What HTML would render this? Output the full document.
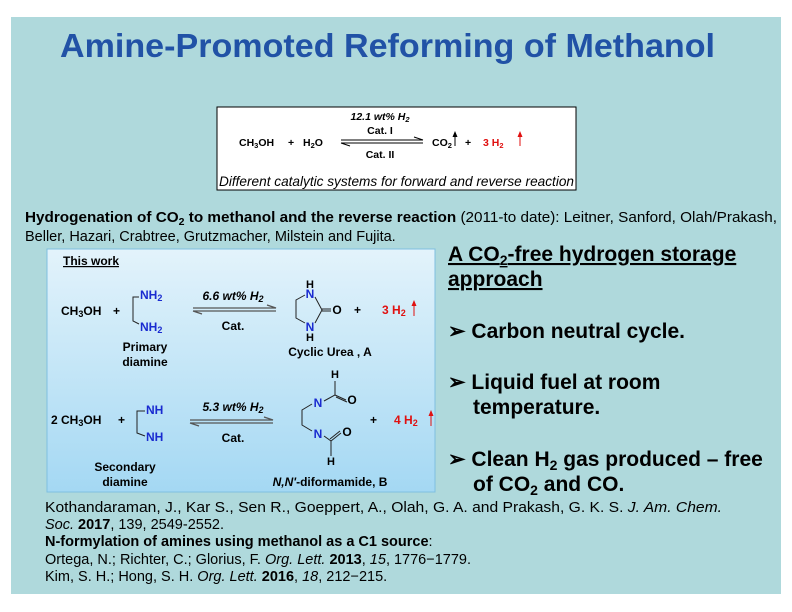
<!DOCTYPE html>
<html><head><meta charset="utf-8"><style>
html,body{margin:0;padding:0;background:#fff}
svg{display:block;font-family:"Liberation Sans",Arial,sans-serif}
</style></head><body>
<svg width="792" height="612" viewBox="0 0 792 612" xmlns="http://www.w3.org/2000/svg">
<defs>
<linearGradient id="bg" x1="0" y1="0" x2="0" y2="1">
<stop offset="0" stop-color="#e3f3fb"/><stop offset="1" stop-color="#a4d8f3"/>
</linearGradient>
</defs>
<rect x="11" y="17" width="770" height="577" fill="#afd9dc"/>
<text x="60" y="57" font-size="33" font-weight="bold" fill="#2152a6" textLength="655" lengthAdjust="spacingAndGlyphs">Amine-Promoted Reforming of Methanol</text>

<!-- top box -->
<rect x="217" y="107" width="359" height="83" fill="#fff" stroke="#000" stroke-width="1"/>
<g font-size="10.5" font-weight="bold">
<text x="380" y="120" text-anchor="middle" font-style="italic">12.1 wt% H<tspan font-size="7.5" dy="2">2</tspan></text>
<text x="380" y="134" text-anchor="middle">Cat. I</text>
<text x="380" y="158" text-anchor="middle">Cat. II</text>
<text x="239" y="146">CH<tspan font-size="7.5" dy="2">3</tspan><tspan dy="-2">OH</tspan></text>
<text x="288" y="146">+</text>
<text x="303" y="146">H<tspan font-size="7.5" dy="2">2</tspan><tspan dy="-2">O</tspan></text>
<text x="432" y="146">CO<tspan font-size="7.5" dy="2">2</tspan></text>
<text x="465" y="146">+</text>
<text x="483" y="146" fill="#e01010">3 H<tspan font-size="7.5" dy="2">2</tspan></text>
</g>
<path d="M341 140 H423 M423 140 l-9 -3 M341 143 H423 M341 143 l9 3" stroke="#000" stroke-width="1" fill="none"/>
<path d="M455 146 V136" stroke="#000" stroke-width="1"/><path d="M452.5 137 L455 131 L457.5 137Z" fill="#000"/>
<path d="M520 146 V136" stroke="#e01010" stroke-width="1"/><path d="M517.5 137 L520 131 L522.5 137Z" fill="#e01010"/>
<text x="219" y="186" font-size="14" font-style="italic" textLength="355" lengthAdjust="spacingAndGlyphs">Different catalytic systems for forward and reverse reaction</text>

<!-- hydrogenation paragraph -->
<text x="25" y="222" font-size="14.5" textLength="752" lengthAdjust="spacingAndGlyphs"><tspan font-weight="bold">Hydrogenation of CO<tspan font-size="10" dy="3">2</tspan><tspan dy="-3"> to methanol and the reverse reaction</tspan></tspan> (2011-to date): Leitner, Sanford, Olah/Prakash,</text>
<text x="25" y="241" font-size="14.5">Beller, Hazari, Crabtree, Grutzmacher, Milstein and Fujita.</text>

<!-- this work box -->
<rect x="47" y="249" width="388" height="243" fill="url(#bg)" stroke="#7fbfe0" stroke-width="1"/>
<text x="63" y="265" font-size="12" font-weight="bold" text-decoration="underline">This work</text>
<g font-size="12" font-weight="bold">
<text x="61" y="315">CH<tspan font-size="9" dy="2">3</tspan><tspan dy="-2">OH</tspan></text>
<text x="113" y="315">+</text>
<text x="140" y="299" fill="#1a2bd0">NH<tspan font-size="9" dy="2">2</tspan></text>
<text x="140" y="331" fill="#1a2bd0">NH<tspan font-size="9" dy="2">2</tspan></text>
<text x="145" y="351" text-anchor="middle">Primary</text>
<text x="145" y="366" text-anchor="middle">diamine</text>
<text x="233" y="300" text-anchor="middle" font-style="italic">6.6 wt% H<tspan font-size="9" dy="2">2</tspan></text>
<text x="233" y="330" text-anchor="middle">Cat.</text>
<text x="330" y="356" text-anchor="middle">Cyclic Urea , A</text>
<text x="354" y="314">+</text>
<text x="382" y="314" fill="#e01010">3 H<tspan font-size="9" dy="2">2</tspan></text>
<text x="51" y="424">2 CH<tspan font-size="9" dy="2">3</tspan><tspan dy="-2">OH</tspan></text>
<text x="118" y="424">+</text>
<text x="146" y="414" fill="#1a2bd0">NH</text>
<text x="146" y="441" fill="#1a2bd0">NH</text>
<text x="125" y="471" text-anchor="middle">Secondary</text>
<text x="125" y="486" text-anchor="middle">diamine</text>
<text x="233" y="411" text-anchor="middle" font-style="italic">5.3 wt% H<tspan font-size="9" dy="2">2</tspan></text>
<text x="233" y="442" text-anchor="middle">Cat.</text>
<text x="330" y="486" text-anchor="middle" font-style="italic">N,N'<tspan font-style="normal">-diformamide, B</tspan></text>
<text x="370" y="424">+</text>
<text x="394" y="424" fill="#e01010">4 H<tspan font-size="9" dy="2">2</tspan></text>
<!-- urea -->
<text x="310" y="288" text-anchor="middle" font-size="11">H</text>
<text x="310" y="298" text-anchor="middle" font-size="12" fill="#1a2bd0">N</text>
<text x="310" y="331" text-anchor="middle" font-size="12" fill="#1a2bd0">N</text>
<text x="310" y="341" text-anchor="middle" font-size="11">H</text>
<text x="337" y="314" text-anchor="middle">O</text>
<!-- diformamide -->
<text x="335" y="378" text-anchor="middle" font-size="11">H</text>
<text x="318" y="407" text-anchor="middle" fill="#1a2bd0">N</text>
<text x="352" y="404" text-anchor="middle">O</text>
<text x="318" y="438" text-anchor="middle" fill="#1a2bd0">N</text>
<text x="347" y="436" text-anchor="middle">O</text>
<text x="331" y="465" text-anchor="middle" font-size="11">H</text>
</g>
<g stroke="#222" stroke-width="1" fill="none">
<path d="M139 297 H133 V321 L139 324"/>
<path d="M145 411 H137 V433 L145 436"/>
<path d="M305 295 L296 300 V318 L305 323"/>
<path d="M315 297 L322 310 L315 323 M322 309 H331 M322 311 H331"/>
<path d="M312 404 L302 410 V425 L312 431"/>
<path d="M324 401 L335 395 V381 M335 395 L346 400 M336 397 L347 402"/>
<path d="M324 436 L331 441 V456 M331 441 L341 433 M330 439 L340 431"/>
</g>
<g stroke="#555" stroke-width="1.3" fill="none">
<path d="M193 308 H276 l-9 -3 M193 311 H276 M193 311 l9 3"/>
<path d="M190 420 H273 l-9 -3 M190 423 H273 M190 423 l9 3"/>
</g>
<path d="M414 316 V305" stroke="#e01010" stroke-width="1"/><path d="M411.5 306 L414 300 L416.5 306Z" fill="#e01010"/>
<path d="M431 426 V415" stroke="#e01010" stroke-width="1"/><path d="M428.5 416 L431 410 L433.5 416Z" fill="#e01010"/>

<!-- right column -->
<g font-size="21" font-weight="bold">
<text x="448" y="261" text-decoration="underline">A CO<tspan font-size="14" dy="4">2</tspan><tspan dy="-4">-free hydrogen storage</tspan></text>
<text x="448" y="286" text-decoration="underline">approach</text>
<text x="448" y="338">➢ Carbon neutral cycle.</text>
<text x="448" y="389">➢ Liquid fuel at room</text>
<text x="473" y="414">temperature.</text>
<text x="448" y="466">➢ Clean H<tspan font-size="14" dy="4">2</tspan><tspan dy="-4"> gas produced – free</tspan></text>
<text x="473" y="491">of CO<tspan font-size="14" dy="4">2</tspan><tspan dy="-4"> and CO.</tspan></text>
</g>

<!-- references -->
<g font-size="14.5">
<text x="45" y="512" textLength="677" lengthAdjust="spacingAndGlyphs">Kothandaraman, J., Kar S., Sen R., Goeppert, A., Olah, G. A. and Prakash, G. K. S. <tspan font-style="italic">J. Am. Chem.</tspan></text>
<text x="45" y="529"><tspan font-style="italic">Soc.</tspan> <tspan font-weight="bold">2017</tspan>, 139, 2549-2552.</text>
<text x="45" y="546" font-weight="bold">N-formylation of amines using methanol as a C1 source<tspan font-weight="normal">:</tspan></text>
<text x="45" y="564">Ortega, N.; Richter, C.; Glorius, F. <tspan font-style="italic">Org. Lett.</tspan> <tspan font-weight="bold">2013</tspan>, <tspan font-style="italic">15</tspan>, 1776−1779.</text>
<text x="45" y="581">Kim, S. H.; Hong, S. H. <tspan font-style="italic">Org. Lett.</tspan> <tspan font-weight="bold">2016</tspan>, <tspan font-style="italic">18</tspan>, 212−215.</text>
</g>
</svg>
</body></html>
